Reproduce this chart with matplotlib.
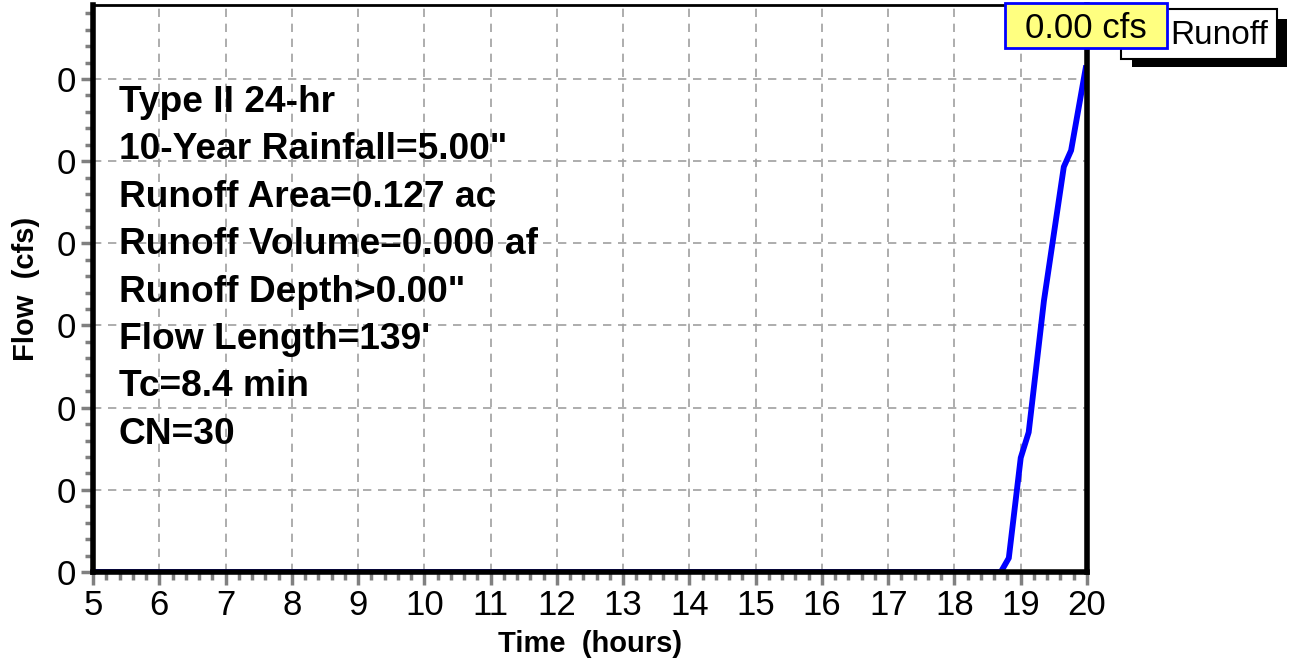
import numpy as np
import matplotlib
matplotlib.use("Agg")
import matplotlib.pyplot as plt
from matplotlib.patches import Rectangle
from matplotlib.ticker import MultipleLocator, FormatStrFormatter

plt.rcParams['font.family'] = ['Liberation Sans', 'DejaVu Sans']

# hydrograph (hours, cfs)
time_hr = [5.0, 18.70, 18.82, 19.00, 19.12, 19.35, 19.65, 19.76, 19.98]
flow_cfs = [0.0, 0.0, 0.000017, 0.000139, 0.000170, 0.000330, 0.000493, 0.000513, 0.000613]

info_lines = ['Type II 24-hr', '10-Year Rainfall=5.00"', 'Runoff Area=0.127 ac',
              'Runoff Volume=0.000 af', 'Runoff Depth>0.00"', "Flow Length=139'",
              'Tc=8.4 min', 'CN=30']
peak_label = '0.00 cfs'
series_name = 'Runoff'

W, H = 1291, 663
fig = plt.figure(figsize=(W / 100, H / 100), dpi=100)
ax = fig.add_axes([93 / W, 1 - 572 / H, (1087 - 93) / W, (572 - 5) / H])

def fx(px):
    return px / W

def fy(py):
    return 1 - py / H

ax.plot(time_hr, flow_cfs, color='#0000ff', lw=4.2, solid_joinstyle='miter', zorder=3)

ax.set_xlim(5, 20)
ax.set_ylim(0, 0.00069)
ax.xaxis.set_major_locator(MultipleLocator(1))
ax.xaxis.set_minor_locator(MultipleLocator(0.2))
ax.yaxis.set_major_locator(MultipleLocator(0.0001))
ax.yaxis.set_minor_locator(MultipleLocator(0.00002))
ax.yaxis.set_major_formatter(FormatStrFormatter('%.0f'))

ax.grid(True, which='major', color='#a0a0a0', linestyle=(0, (5, 4)), lw=1.2)
ax.tick_params(which='major', direction='out', length=9, width=2.5, color='#808080',
               labelsize=25, pad=3)
ax.tick_params(which='minor', direction='out', length=6, width=2.5, color='#808080')

for s in ['left', 'bottom', 'right']:
    ax.spines[s].set_linewidth(4)
    ax.spines[s].set_zorder(4)
ax.spines['top'].set_linewidth(2)

ax.set_xlabel('Time  (hours)', fontsize=21, fontweight='bold', labelpad=6)
ax.set_ylabel('Flow  (cfs)', fontsize=21, fontweight='bold', labelpad=12)

for i, line in enumerate(info_lines):
    fig.text(fx(119), fy(112 + 47.4 * i), line, fontsize=26.7, fontweight='bold',
             va='baseline', ha='left')

# legend box with solid shadow
fig.patches.append(Rectangle((fx(1132), fy(67)), fx(155), 48 / H, transform=fig.transFigure,
                             facecolor='black', edgecolor='none', zorder=5))
fig.patches.append(Rectangle((fx(1121), fy(59)), fx(156), 50 / H, transform=fig.transFigure,
                             facecolor='white', edgecolor='black', lw=1.5, zorder=6))
fig.text(fx(1170), fy(36), series_name, fontsize=24, ha='left', va='center', zorder=7)

# peak label
fig.patches.append(Rectangle((fx(1005), fy(48)), fx(162), 45 / H, transform=fig.transFigure,
                             facecolor='#ffff80', edgecolor='#0000ff', lw=2, zorder=8))
fig.text(fx(1086), fy(28), peak_label, fontsize=25, ha='center', va='center', zorder=9)

fig.savefig('out.png', dpi=100)
